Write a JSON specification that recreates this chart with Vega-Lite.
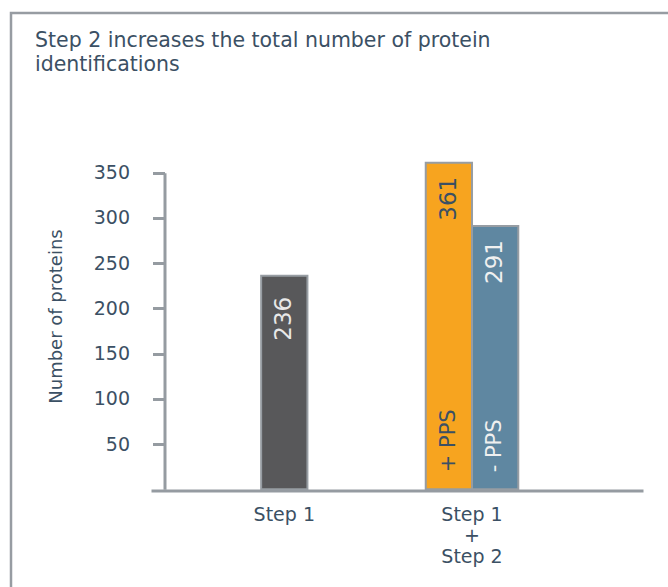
{
  "$schema": "https://vega.github.io/schema/vega-lite/v6.json",
  "width": 662,
  "height": 579,
  "autosize": {"type": "none"},
  "padding": {"left": 11, "top": 13, "right": 0, "bottom": 0},
  "background": "white",
  "config": {
    "view": {"stroke": "#979ca2", "strokeWidth": 2.5},
    "font": "DejaVu Sans"
  },
  "title": {
    "text": ["Step 2 increases the total number of protein", "identifications"],
    "anchor": "start",
    "frame": "group",
    "orient": "top",
    "offset": -20,
    "dx": 24,
    "dy": 42,
    "baseline": "top",
    "fontSize": 20.5,
    "fontWeight": "normal",
    "font": "DejaVu Sans",
    "color": "#3b5064",
    "lineHeight": 24
  },
  "data": {
    "values": [
      {"group": "Step 1", "sub": "Step 1", "value": 236, "tag": ""},
      {"group": "Step 1 + Step 2", "sub": "+ PPS", "value": 361, "tag": "+ PPS"},
      {"group": "Step 1 + Step 2", "sub": "- PPS", "value": 291, "tag": "- PPS"}
    ]
  },
  "encoding": {
    "x": {
      "field": "group",
      "type": "nominal",
      "sort": ["Step 1", "Step 1 + Step 2"],
      "scale": {"domain": ["Step 1", "Step 1 + Step 2"], "range": [140, 632], "paddingInner": 0.507, "paddingOuter": 0.564, "align": 0.411},
      "axis": {
        "title": null,
        "orient": "bottom",
        "offset": -101.5,
        "ticks": false,
        "grid": false,
        "domainColor": "#959ba1",
        "domainWidth": 3,
        "labelAngle": 0,
        "labelFont": "DejaVu Sans",
        "labelFontSize": 19,
        "labelColor": "#3b5064",
        "labelPadding": 15,
        "labelBaseline": "top",
        "labelLineHeight": 21,
        "labelExpr": "datum.value == 'Step 1 + Step 2' ? ['Step 1', '+', 'Step 2'] : datum.value"
      }
    },
    "y": {
      "field": "value",
      "type": "quantitative",
      "scale": {"domain": [0, 350], "range": [476.3, 159.7], "nice": false, "zero": true},
      "axis": {
        "title": "Number of proteins",
        "orient": "left",
        "offset": -153.5,
        "values": [50, 100, 150, 200, 250, 300, 350],
        "grid": false,
        "domainColor": "#959ba1",
        "domainWidth": 3,
        "tickColor": "#959ba1",
        "tickWidth": 3,
        "tickSize": 12,
        "labelFont": "DejaVu Sans",
        "labelFontSize": 19,
        "labelColor": "#3b5064",
        "labelPadding": 23,
        "titleFont": "DejaVu Sans",
        "titleFontSize": 18,
        "titleFontWeight": "normal",
        "titleColor": "#3b5064",
        "titleAngle": -90,
        "titleBaseline": "middle",
        "titleAlign": "center",
        "titleX": -108,
        "titleY": 303
      }
    }
  },
  "layer": [
    {
      "transform": [{"filter": "datum.group == 'Step 1'"}],
      "layer": [
        {
          "mark": {"type": "bar", "width": {"band": 0.5}, "fill": "#58585a", "stroke": "#979da3", "strokeWidth": 2}
        },
        {
          "mark": {"type": "text", "angle": 270, "align": "right", "baseline": "middle", "dx": -21, "fontSize": 23, "font": "DejaVu Sans", "color": "#e8e8e8"},
          "encoding": {"text": {"field": "value", "type": "quantitative"}}
        }
      ]
    },
    {
      "transform": [{"filter": "datum.group != 'Step 1'"}],
      "encoding": {
        "xOffset": {"field": "sub", "type": "nominal", "sort": ["+ PPS", "- PPS"], "scale": {"domain": ["+ PPS", "- PPS"], "paddingInner": 0, "paddingOuter": 0}}
      },
      "layer": [
        {
          "mark": {"type": "bar", "stroke": "#979da3", "strokeWidth": 2},
          "encoding": {
            "fill": {"field": "sub", "type": "nominal", "scale": {"domain": ["+ PPS", "- PPS"], "range": ["#f7a41f", "#5f87a1"]}, "legend": null}
          }
        },
        {
          "mark": {"type": "text", "angle": 270, "align": "right", "baseline": "middle", "dx": -14, "fontSize": 23, "font": "DejaVu Sans"},
          "encoding": {
            "text": {"field": "value", "type": "quantitative"},
            "color": {"condition": {"test": "datum.sub == '+ PPS'", "value": "#3b5064"}, "value": "#f0f0f0"}
          }
        },
        {
          "mark": {"type": "text", "angle": 270, "align": "left", "baseline": "middle", "dx": 17, "fontSize": 21, "font": "DejaVu Sans"},
          "encoding": {
            "y": {"datum": 0, "type": "quantitative"},
            "text": {"field": "tag", "type": "nominal"},
            "color": {"condition": {"test": "datum.sub == '+ PPS'", "value": "#3b5064"}, "value": "#f0f0f0"}
          }
        }
      ]
    }
  ]
}
